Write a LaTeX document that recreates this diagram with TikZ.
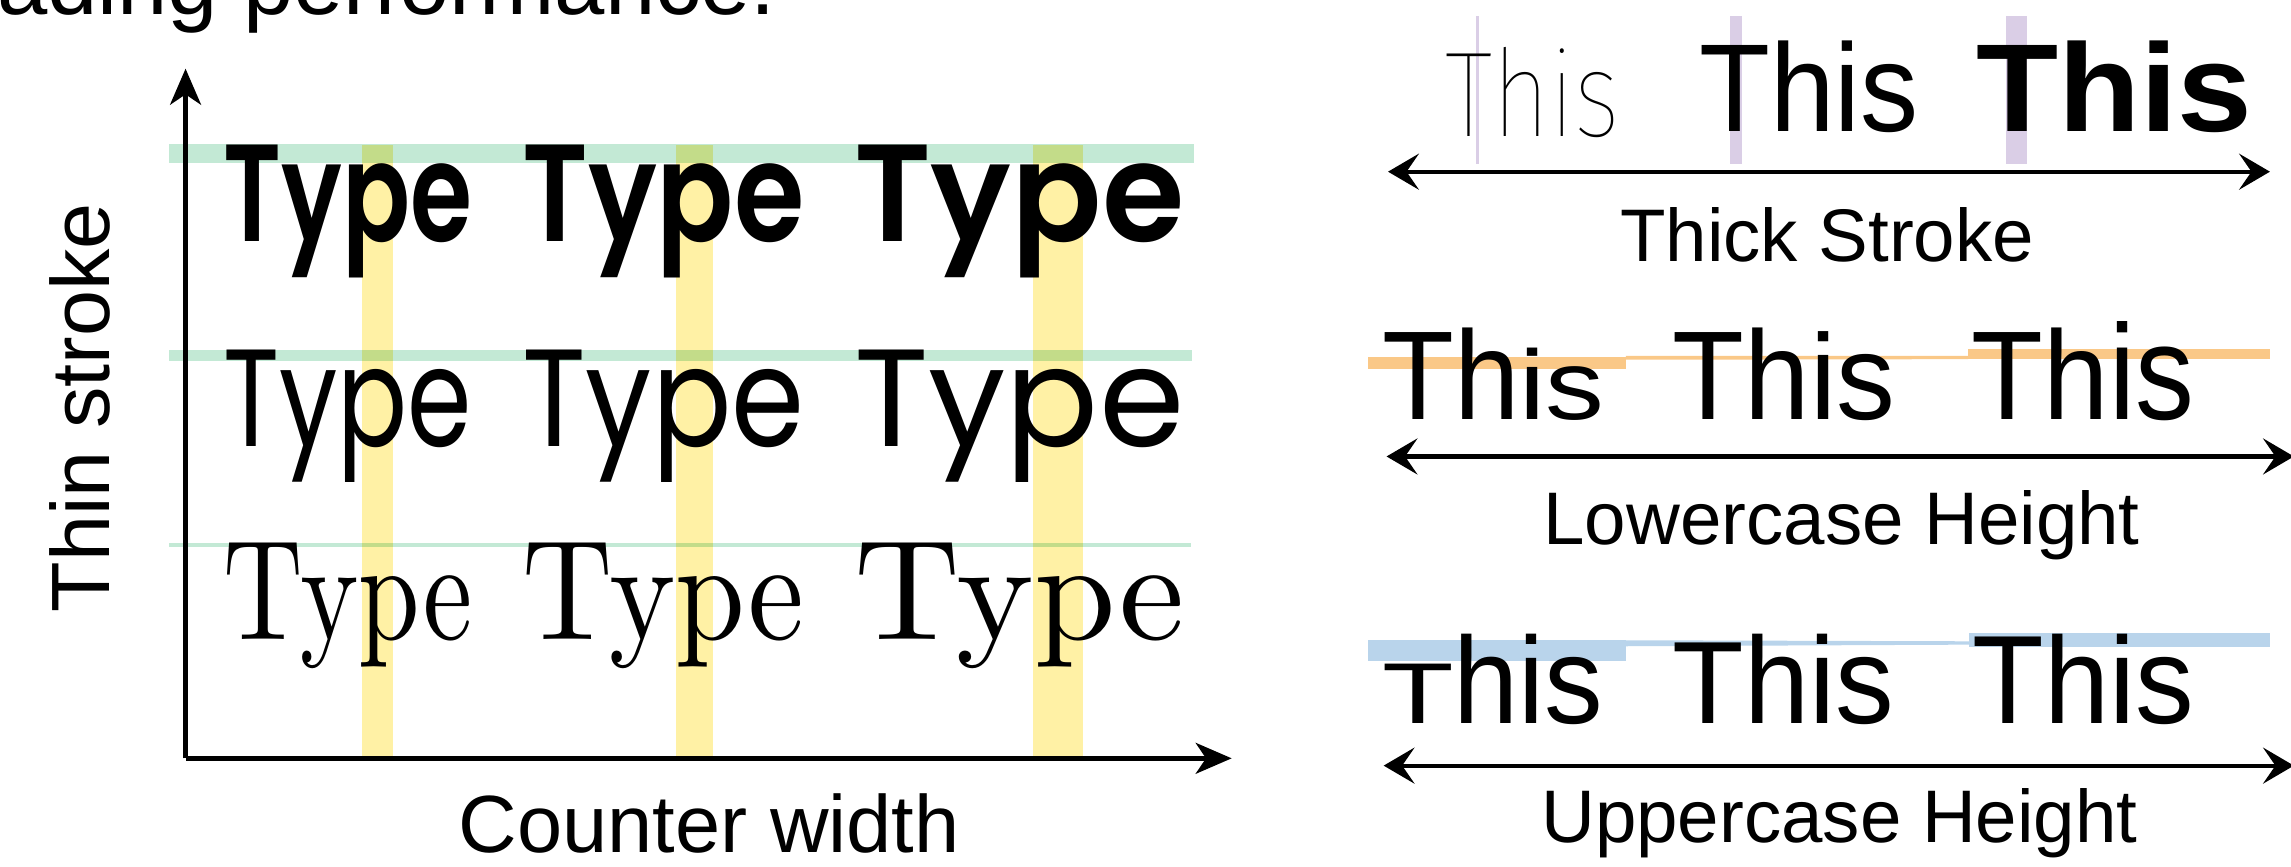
\documentclass[tikz,border=0pt]{standalone}
\usepackage{fontspec}
\usepackage{graphicx}
\newfontfamily\labelfont{Liberation Sans}
\newfontfamily\geofont{Poppins}
\newfontfamily\geobold{Poppins SemiBold}
\newfontfamily\hairfont{Fira Sans Thin}
\usetikzlibrary{arrows.meta}
\definecolor{bandgreen}{RGB}{195,233,213}
\definecolor{bandyellow}{RGB}{255,241,165}
\definecolor{bandpurple}{RGB}{218,206,230}
\definecolor{bandorange}{RGB}{250,200,135}
\definecolor{bandblue}{RGB}{185,212,235}
\tikzset{axis/.style={line width=0.9pt,-{Stealth[length=7pt,width=6pt,inset=2pt]}},
  span/.style={line width=0.8pt,{Stealth[length=6pt,width=7pt,inset=2.4pt]}-{Stealth[length=6pt,width=7pt,inset=2.4pt]}},
  word/.style={anchor=base west,inner sep=0pt,outer sep=0pt},
  caption/.style={anchor=base,inner sep=0pt,font=\labelfont\fontsize{14.5}{17}\selectfont}}

\begin{document}
\begin{tikzpicture}[x=0.01cm,y=-0.01cm]
\useasboundingbox (0,0) rectangle (1568,593);

\node[word,font=\labelfont\fontsize{17.6}{20}\selectfont] (head) at (-2,10) {ading performance.};

% bands of the type grid
\begin{scope}[blend mode=multiply]
\fill[bandgreen] (116,98.6) rectangle (817,111.6);
\fill[bandgreen] (116,239.4) rectangle (816,246.8);
\fill[bandgreen] (116,371.6) rectangle (815,374.4);
\foreach \a/\b in {248/269,463/488,707/741}
  {
    \fill[bandyellow] (\a,99) rectangle (\b,521);
  }
\end{scope}

% bands of the right column
\fill[bandpurple] (1010,11) rectangle (1012.5,112);
\fill[bandpurple] (1184,11) rectangle (1192,112);
\fill[bandpurple] (1373,11) rectangle (1387,112);

\fill[bandorange] (936.6,244) rectangle (1112.7,252.6);
\fill[bandorange] (1112.7,243.5) -- (1347,243.5) -- (1347,245.8) -- (1112.7,246.2) -- cycle;
\fill[bandorange] (1347,239) rectangle (1553.6,246);

\fill[bandblue] (936.6,437.8) rectangle (1112.7,452.6);
\fill[bandblue] (1112.7,438.2) -- (1347.5,438.9) -- (1347.5,441.2) -- (1112.7,442.3) -- cycle;
\fill[bandblue] (1347.5,433.2) rectangle (1553.6,443);

% axes
\coordinate (origin) at (127,519);
\coordinate (ytop) at (127,47);
\coordinate (xend) at (843,519);
\draw[axis] (origin) -- (ytop);
\draw[axis] (origin) -- (xend);

\node[rotate=90,anchor=base,inner sep=0pt,font=\labelfont\fontsize{16.1}{19}\selectfont] (ylabel) at (75,279) {Thin stroke};
\node[anchor=base,inner sep=0pt,font=\labelfont\fontsize{15.8}{19}\selectfont] (xlabel) at (485.5,583.5) {Counter width};

% Type grid
\node[word] (t11) at (153,165) {\resizebox{1.70cm}{0.66cm}{\geobold Type}};
\node[word] (t12) at (357.5,165) {\resizebox{1.93cm}{0.66cm}{\geobold Type}};
\node[word] (t13) at (584.5,165) {\resizebox{2.26cm}{0.66cm}{\geobold Type}};
\node[word] (t21) at (153,305.6) {\resizebox{1.70cm}{0.66cm}{\geofont Type}};
\node[word] (t22) at (357.5,305.6) {\resizebox{1.93cm}{0.66cm}{\geofont Type}};
\node[word] (t23) at (584.5,305.6) {\resizebox{2.26cm}{0.66cm}{\geofont Type}};
\node[word] (t31) at (153,437.8) {\resizebox{1.70cm}{0.66cm}{\rmfamily Type}};
\node[word] (t32) at (357.5,437.8) {\resizebox{1.93cm}{0.66cm}{\rmfamily Type}};
\node[word] (t33) at (585,437.8) {\resizebox{2.26cm}{0.66cm}{\rmfamily Type}};

% Thick Stroke
\node[word] (s11) at (989,93.5) {\resizebox{1.20cm}{0.61cm}{\hairfont This}};
\node[word] (s12) at (1163,90) {\resizebox{1.50cm}{0.62cm}{\labelfont This}};
\node[word] (s13) at (1352.5,90) {\resizebox{1.89cm}{0.62cm}{\labelfont\bfseries This}};
\coordinate (a1l) at (950,117.5);
\coordinate (a1r) at (1553.6,117.5);
\draw[span] (a1l) -- (a1r);
\node[caption] (cap1) at (1250.5,179) {Thick Stroke};

% Lowercase Height
\node[word,font=\labelfont\fontsize{24.6}{28}\selectfont] (s21) at (946,287) {\scalebox{0.93}[1]{Th\scalebox{1}[0.78]{is}}};
\node[word,font=\labelfont\fontsize{24.6}{28}\selectfont] (s22) at (1145,287) {\scalebox{0.93}[1]{Th\scalebox{1}[0.96]{is}}};
\node[word,font=\labelfont\fontsize{24.6}{28}\selectfont] (s23) at (1349.6,287) {\scalebox{0.93}[1]{Th\scalebox{1}[1.07]{is}}};
\coordinate (a2l) at (949,312.4);
\coordinate (a2r) at (1570,312.4);
\draw[span] (a2l) -- (a2r);
\node[caption] (cap2) at (1260.5,372.8) {Lowercase Height};

% Uppercase Height
\node[word,font=\labelfont\fontsize{24}{28}\selectfont] (s31) at (946,495) {\scalebox{0.95}[1]{\scalebox{1}[0.70]{T}his}};
\node[word,font=\labelfont\fontsize{24}{28}\selectfont] (s32) at (1145,495) {\scalebox{0.95}[1]{\scalebox{1}[0.95]{T}his}};
\node[word,font=\labelfont\fontsize{24}{28}\selectfont] (s33) at (1350,495) {\scalebox{0.95}[1]{\scalebox{1}[1.02]{T}his}};
\coordinate (a3l) at (947,524);
\coordinate (a3r) at (1570,524);
\draw[span] (a3l) -- (a3r);
\node[caption] (cap3) at (1259,576.4) {Uppercase Height};

\end{tikzpicture}
\end{document}
